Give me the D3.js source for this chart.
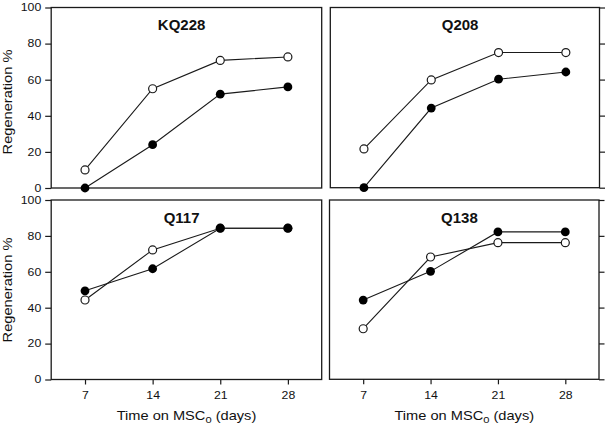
<!DOCTYPE html>
<html>
<head>
<meta charset="utf-8">
<script src="https://cdn.jsdelivr.net/npm/d3@7"></script>
<style>
  html, body { margin: 0; padding: 0; background: #fff; }
  svg { display: block; }
  text { font-family: "Liberation Sans", Arial, Helvetica, sans-serif; fill: #111; }
</style>
</head>
<body>
<script>
// ---- data ----
const days = [7, 14, 21, 28];
const yTicks = [0, 20, 40, 60, 80, 100];
const panelTitles = ["KQ228", "Q208", "Q117", "Q138"];
const openKQ228   = [10, 55, 70.7, 72.6];
const filledKQ228 = [0, 24, 52, 56];
const openQ208    = [21.5, 59.8, 75, 75];
const filledQ208  = [0, 44.2, 60.2, 64.2];
const openQ117    = [44.3, 72.2, 84.3, 84.3];
const filledQ117  = [49.4, 61.7, 84.3, 84.3];
const openQ138    = [28.2, 68.2, 76.2, 76.2];
const filledQ138  = [44.2, 60.2, 82.2, 82.2];
const yLabel = "Regeneration %";

const openSeries = [openKQ228, openQ208, openQ117, openQ138];
const filledSeries = [filledKQ228, filledQ208, filledQ117, filledQ138];

// ---- layout ----
const W = 607, H = 427;
const boxes = [
  {x0: 51.2, x1: 321.7, y0: 7.5, y1: 188,   left: true,  bottom: false, ylab: 102},
  {x0: 330.3, x1: 599.5, y0: 7.5, y1: 187.7, left: false, bottom: false},
  {x0: 51.2, x1: 321.7, y0: 200, y1: 379.5, left: true,  bottom: true, ylab: 290},
  {x0: 329.5, x1: 599,  y0: 200, y1: 379.3, left: false, bottom: true}
];
const stroke = "#1a1a1a";
const stretch = 1.17;     // reference type is wide
const labStretch = 1.17;

const svg = d3.select("body").append("svg").attr("width", W).attr("height", H);

function widen(sel, k) {
  sel.each(function () {
    const x0 = +this.getAttribute("x") || 0;
    this.setAttribute("transform", `translate(${x0},0) scale(${k},1) translate(${-x0},0)`);
  });
}

boxes.forEach((b, i) => {
  const x = d3.scaleLinear().domain([3.5, 31.5]).range([b.x0, b.x1]);
  const y = d3.scaleLinear().domain([0, 100]).range([b.y1, b.y0]);
  const g = svg.append("g");

  // y axis ticks
  if (b.left) {
    const ax = g.append("g").attr("transform", `translate(${b.x0},0)`)
      .call(d3.axisLeft(y).tickValues(yTicks).tickSize(6).tickPadding(4).tickFormat(d3.format("d")));
    ax.select(".domain").remove();
    ax.selectAll("line").attr("stroke", stroke).attr("stroke-width", 1.2);
    const tt = ax.selectAll("text").style("font-size", "10.5px").attr("fill", "#111")
      .style("font-family", "'Liberation Sans', Arial, Helvetica, sans-serif");
    widen(tt, stretch);
    g.append("text")
      .attr("transform", `translate(12,${b.ylab}) rotate(-90) scale(${labStretch},1)`)
      .attr("text-anchor", "middle")
      .style("font-size", "12.5px")
      .text(yLabel);
  } else {
    const ax = g.append("g").attr("transform", `translate(${b.x1},0)`)
      .call(d3.axisRight(y).tickValues(yTicks).tickSize(5.5).tickFormat(""));
    ax.select(".domain").remove();
    ax.selectAll("line").attr("stroke", stroke).attr("stroke-width", 1.2);
  }

  // x axis ticks
  if (b.bottom) {
    const ax = g.append("g").attr("transform", `translate(0,${b.y1})`)
      .call(d3.axisBottom(x).tickValues(days).tickSize(5).tickPadding(7.5).tickFormat(d3.format("d")));
    ax.select(".domain").remove();
    ax.selectAll("line").attr("stroke", stroke).attr("stroke-width", 1.2);
    const tt = ax.selectAll("text").style("font-size", "10.5px").attr("fill", "#111")
      .style("font-family", "'Liberation Sans', Arial, Helvetica, sans-serif");
    widen(tt, stretch);
    const t = g.append("text")
      .attr("transform", `translate(${(b.x0 + b.x1) / 2},420) scale(${labStretch},1)`)
      .attr("text-anchor", "middle")
      .style("font-size", "12.5px");
    t.append("tspan").text("Time on MSC");
    t.append("tspan").text("0").attr("dy", 3).style("font-size", "9.5px");
    t.append("tspan").text(" (days)").attr("dy", -3);
  }

  // frame
  g.append("rect")
    .attr("x", b.x0).attr("y", b.y0)
    .attr("width", b.x1 - b.x0).attr("height", b.y1 - b.y0)
    .attr("fill", "none").attr("stroke", stroke).attr("stroke-width", 1.3);

  // title
  g.append("text")
    .attr("x", x(17))
    .attr("y", b.y0 + 22.5)
    .attr("text-anchor", "middle")
    .style("font-size", "15px")
    .style("font-weight", "bold")
    .text(panelTitles[i]);

  const line = d3.line().x((d, k) => x(days[k])).y(d => y(d));
  const open = openSeries[i], filled = filledSeries[i];

  g.append("path").attr("d", line(open)).attr("fill", "none")
    .attr("stroke", stroke).attr("stroke-width", 1.1);
  g.append("path").attr("d", line(filled)).attr("fill", "none")
    .attr("stroke", stroke).attr("stroke-width", 1.1);

  g.selectAll(".open").data(open).enter().append("circle")
    .attr("cx", (d, k) => x(days[k])).attr("cy", d => y(d)).attr("r", 4)
    .attr("fill", "#fff").attr("stroke", stroke).attr("stroke-width", 1.2);
  g.selectAll(".filled").data(filled).enter().append("circle")
    .attr("cx", (d, k) => x(days[k])).attr("cy", d => y(d)).attr("r", 4.4)
    .attr("fill", "#000");
});
</script>
</body>
</html>
